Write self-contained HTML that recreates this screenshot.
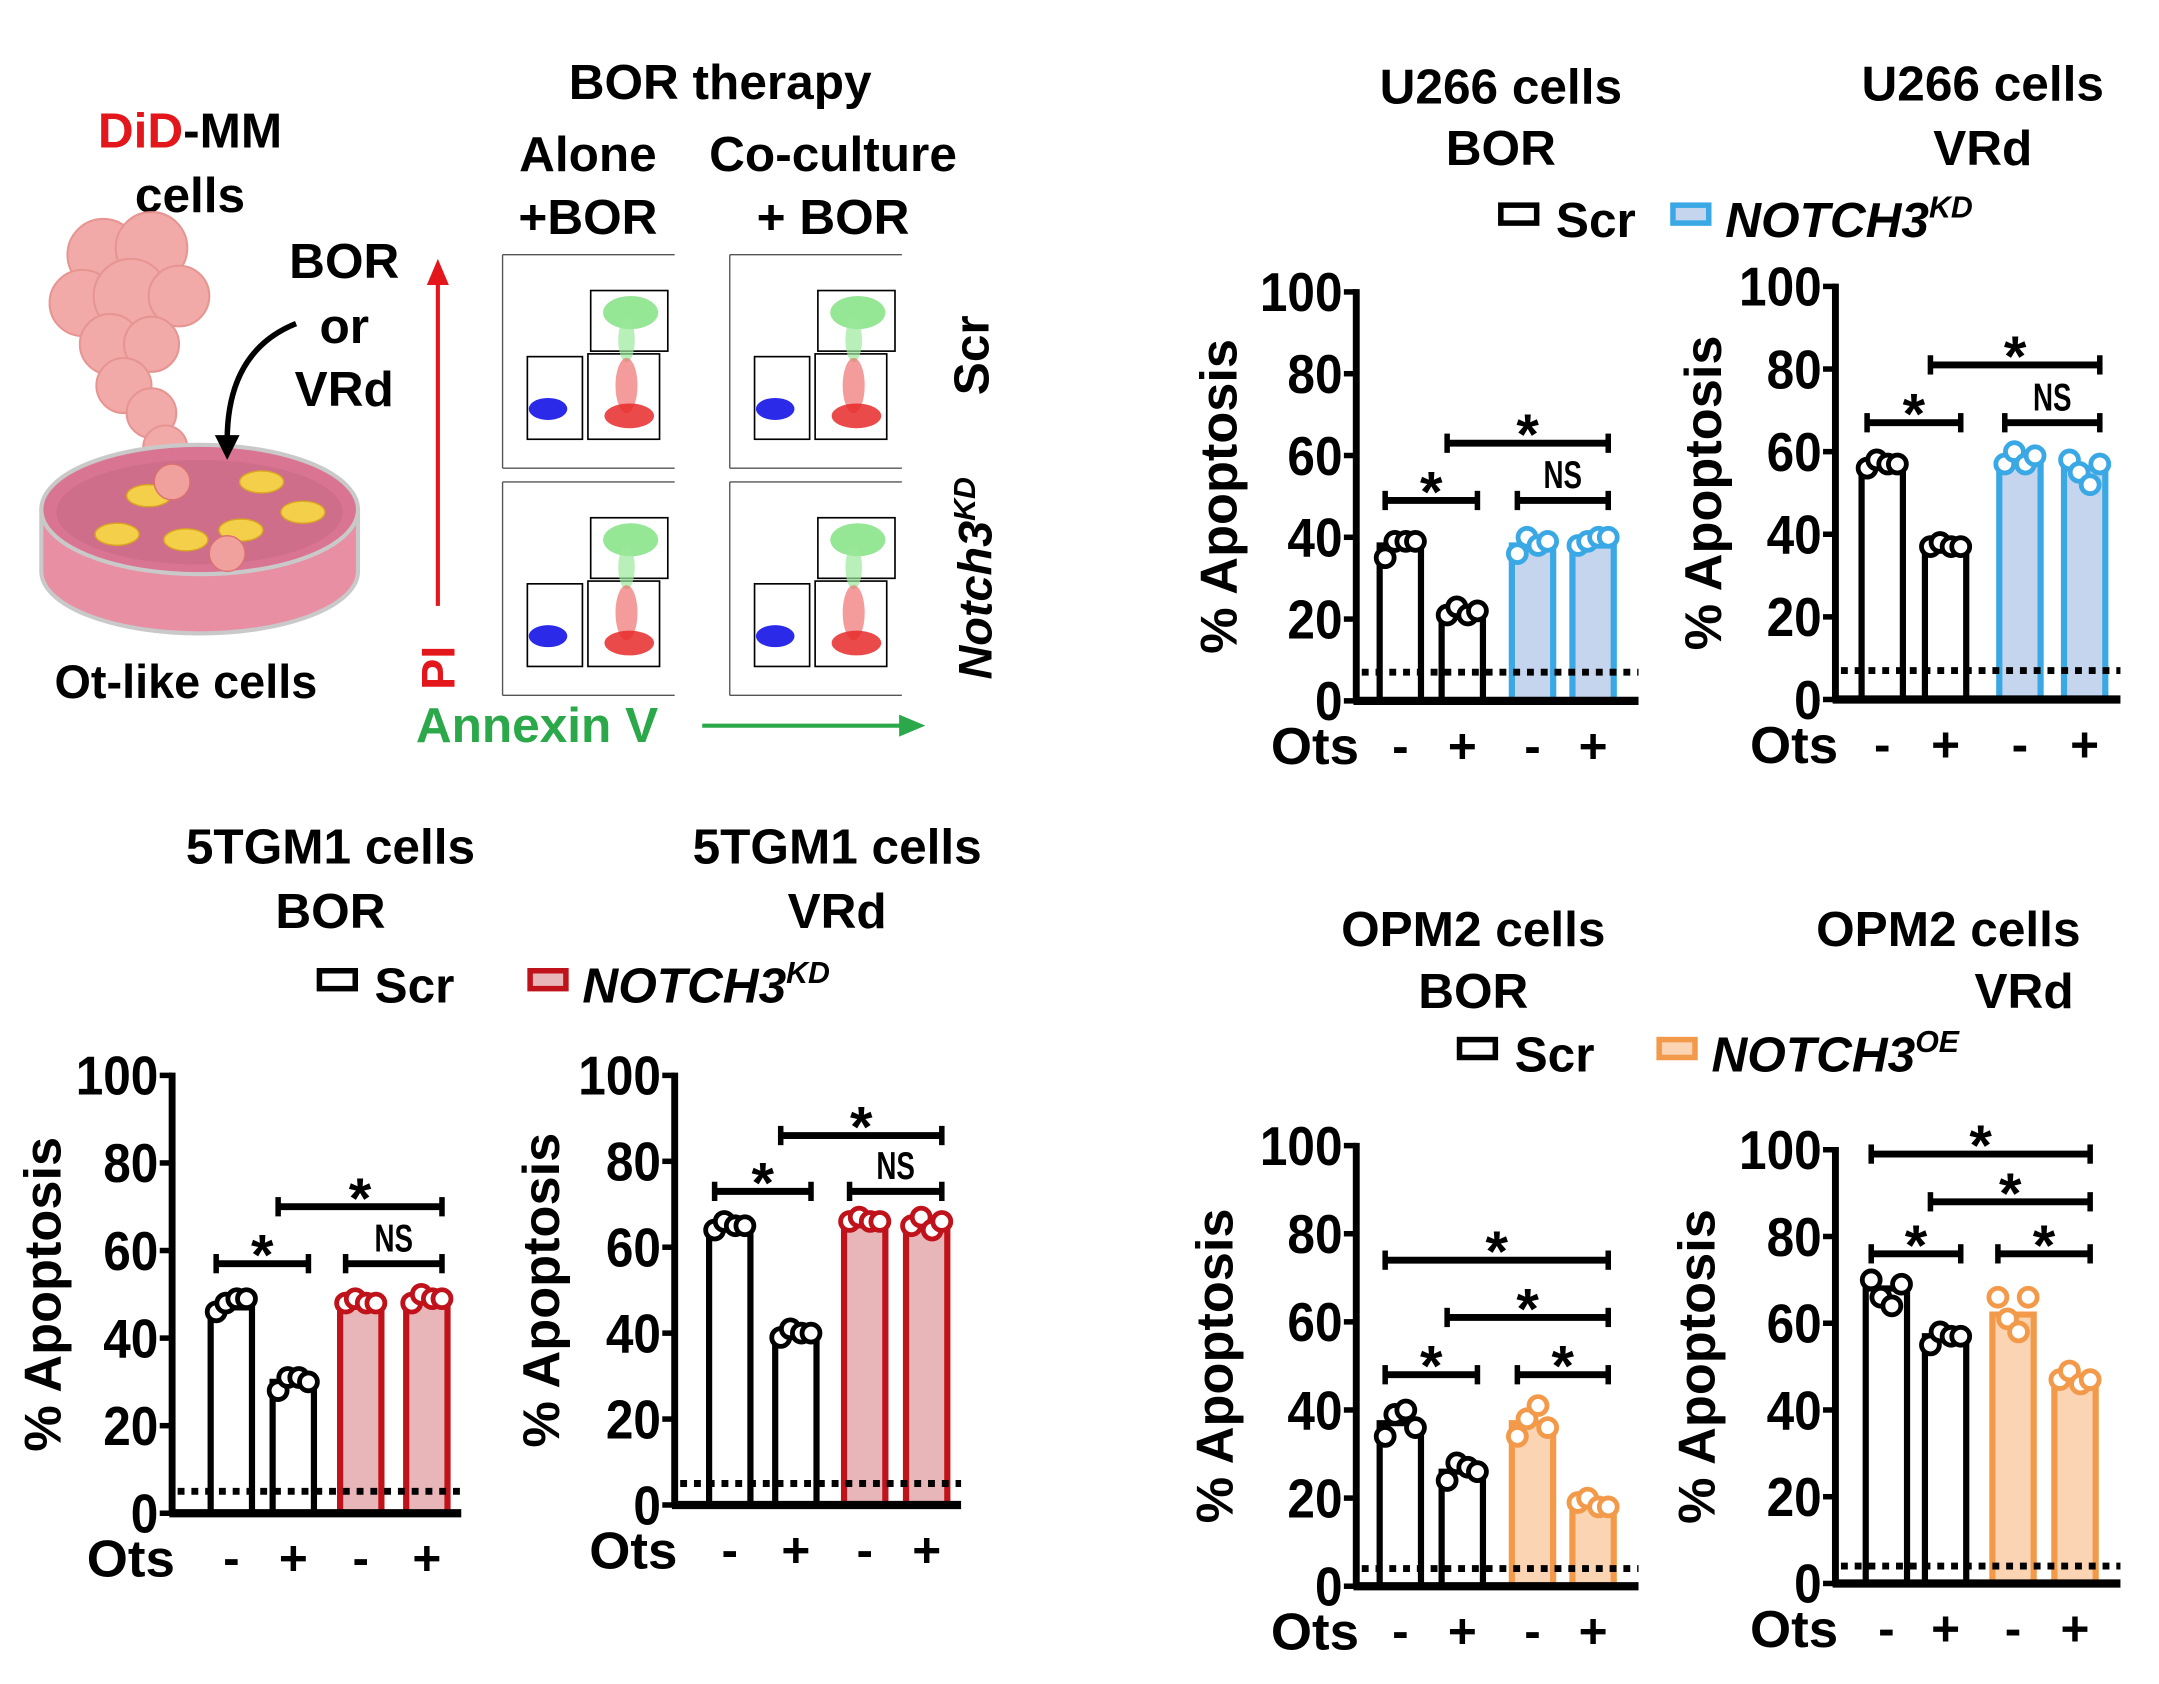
<!DOCTYPE html>
<html><head><meta charset="utf-8"><style>
html,body{margin:0;padding:0;background:#fff}
svg{display:block}
text{font-family:"Liberation Sans",Arial,sans-serif;font-weight:bold}
</style></head><body>
<svg id="fig" xmlns="http://www.w3.org/2000/svg" width="2159" height="1684" viewBox="0 0 1568 1223">
<rect width="1568" height="1223" fill="#fff"/>
<g id="schematic">
  <text x="138" y="107" font-size="36" text-anchor="middle"><tspan fill="#e3161b">DiD</tspan>-MM</text>
  <text x="138" y="154" font-size="36" text-anchor="middle">cells</text>
  <g fill="#f0a19e" stroke="#e58a87" stroke-width="1.5" opacity="0.9">
    <circle cx="75" cy="185" r="26"/><circle cx="110" cy="180" r="26"/><circle cx="60" cy="220" r="24"/>
    <circle cx="95" cy="215" r="27"/><circle cx="130" cy="215" r="22"/><circle cx="80" cy="250" r="22"/>
    <circle cx="110" cy="250" r="20"/><circle cx="90" cy="280" r="20"/><circle cx="110" cy="300" r="18"/><circle cx="120" cy="325" r="16"/>
  </g>
  <g>
    <path d="M30 370 L30 415 A115 45 0 0 0 260 415 L260 370" fill="#e98fa4" stroke="#c9c9c9" stroke-width="3"/>
    <ellipse cx="145" cy="370" rx="115" ry="47" fill="#d97592" stroke="#c9c9c9" stroke-width="3"/>
    <ellipse cx="145" cy="372" rx="104" ry="38" fill="#cf6e8a"/>
    <g fill="#f3cf4a" stroke="#d9a520" stroke-width="1">
      <ellipse cx="108" cy="360" rx="16" ry="8"/><ellipse cx="190" cy="350" rx="16" ry="8"/><ellipse cx="220" cy="372" rx="16" ry="8"/>
      <ellipse cx="85" cy="388" rx="16" ry="8"/><ellipse cx="135" cy="392" rx="16" ry="8"/><ellipse cx="175" cy="385" rx="16" ry="8"/>
    </g>
    <circle cx="125" cy="350" r="13" fill="#f0a19e" stroke="#d97070"/><circle cx="165" cy="402" r="13" fill="#f0a19e" stroke="#d97070"/>
  </g>
  <path d="M215 235 Q165 255 165 320" fill="none" stroke="#000" stroke-width="4"/>
  <polygon points="156,316 174,316 165,334" fill="#000"/>
  <text x="250" y="202" font-size="36" text-anchor="middle">BOR</text>
  <text x="250" y="249" font-size="36" text-anchor="middle">or</text>
  <text x="250" y="295" font-size="36" text-anchor="middle">VRd</text>
  <text x="135" y="507" font-size="34" text-anchor="middle">Ot-like cells</text>
</g>
<g id="flow">
  <text x="523" y="72" font-size="36" text-anchor="middle">BOR therapy</text>
  <text x="427" y="124" font-size="36" text-anchor="middle">Alone</text>
  <text x="427" y="170" font-size="36" text-anchor="middle">+BOR</text>
  <text x="605" y="124" font-size="36" text-anchor="middle">Co-culture</text>
  <text x="605" y="170" font-size="36" text-anchor="middle">+ BOR</text>
  <text transform="translate(718,258) rotate(-90)" font-size="36" text-anchor="middle">Scr</text>
  <text transform="translate(720,420) rotate(-90)" font-size="34" font-style="italic" text-anchor="middle">Notch3<tspan font-size="22" dy="-12">KD</tspan></text>
  <line x1="318" y1="440" x2="318" y2="205" stroke="#e3161b" stroke-width="3"/>
  <polygon points="310,207 326,207 318,188" fill="#e3161b"/>
  <text transform="translate(330,485) rotate(-90)" font-size="34" fill="#e3161b" text-anchor="middle">PI</text>
  <text x="390" y="539" font-size="36" fill="#2ba84a" text-anchor="middle">Annexin V</text>
  <line x1="510" y1="527" x2="655" y2="527" stroke="#2ba84a" stroke-width="3"/>
  <polygon points="653,519 653,535 672,527" fill="#2ba84a"/>
  <g id="plots"></g>
</g>
<g id="charts"></g>
</svg>
<script>
var plotOrigins = [[365,185,'scr-alone'],[530,185,'scr-coculture'],[365,350,'kd-alone'],[530,350,'kd-coculture']];
var NS = 'http://www.w3.org/2000/svg';
function mk(tag, attrs, parent){var e=document.createElementNS(NS,tag);for(var k in attrs)e.setAttribute(k,attrs[k]);parent.appendChild(e);return e;}
var plots = document.getElementById('plots');
plotOrigins.forEach(function(p){
  var g = mk('g',{},plots);
  
  
  var x=p[0], y=p[1];
  mk('line',{x1:x,y1:y,x2:x+125,y2:y,stroke:'#555','stroke-width':1},g);
  mk('line',{x1:x,y1:y,x2:x,y2:y+155,stroke:'#555','stroke-width':1},g);
  mk('line',{x1:x,y1:y+155,x2:x+125,y2:y+155,stroke:'#555','stroke-width':1},g);
  mk('rect',{x:x+64,y:y+26,width:56,height:44,fill:'none',stroke:'#000','stroke-width':1.2},g);
  mk('rect',{x:x+18,y:y+74,width:40,height:60,fill:'none',stroke:'#000','stroke-width':1.2},g);
  mk('rect',{x:x+62,y:y+72,width:52,height:62,fill:'none',stroke:'#000','stroke-width':1.2},g);
  mk('ellipse',{cx:x+93,cy:y+42,rx:20,ry:12,fill:'#7be07b',opacity:0.8},g);
  mk('ellipse',{cx:x+90,cy:y+62,rx:6,ry:16,fill:'#9be89b',opacity:0.7},g);
  mk('ellipse',{cx:x+33,cy:y+112,rx:14,ry:8,fill:'#2a2ae8'},g);
  mk('ellipse',{cx:x+90,cy:y+95,rx:8,ry:20,fill:'#f07070',opacity:0.7},g);
  mk('ellipse',{cx:x+92,cy:y+117,rx:18,ry:9,fill:'#e82a2a',opacity:0.85},g);
});

var chartIds = ['u266-bor','u266-vrd','5tgm1-bor','5tgm1-vrd','opm2-bor','opm2-vrd'];
var barValues = [[38,21,38,38],[57,37,58,56],[47,30,48,49],[65,40,66,65],[37,26,37,19],[68,57,62,47]];
var dotValues = [
  [[35,39,39,39],[21,23,21,22],[36,40,38,39],[38,39,40,40]],
  [[56,58,57,57],[37,38,37,37],[57,60,57,59],[58,55,52,57]],
  [[46,48,49,49],[28,31,31,30],[48,49,48,48],[48,50,49,49]],
  [[64,66,65,65],[39,41,40,40],[66,67,66,66],[65,67,64,66]],
  [[34,39,40,36],[24,28,27,26],[34,38,41,36],[19,20,18,18]],
  [[70,66,64,69],[55,58,57,57],[66,61,58,66],[47,49,46,47]]
];
var dottedLevels = [7,7,5,5,4,4];
var bracketSets = [
  [[0,1,49,'*'],[1,3,63,'*'],[2,3,49,'NS']],
  [[0,1,67,'*'],[1,3,81,'*'],[2,3,67,'NS']],
  [[0,1,57,'*'],[1,3,70,'*'],[2,3,57,'NS']],
  [[0,1,73,'*'],[1,3,86,'*'],[2,3,73,'NS']],
  [[0,1,48,'*'],[2,3,48,'*'],[1,3,61,'*'],[0,3,74,'*']],
  [[0,1,76,'*'],[2,3,76,'*'],[1,3,88,'*'],[0,3,99,'*']]
];
var yTicks = [0,20,40,60,80,100];
var otsLabels = ['-','+','-','+'];
var titleLine1 = ['U266 cells','U266 cells','5TGM1 cells','5TGM1 cells','OPM2 cells','OPM2 cells'];
var titleLine2 = ['BOR','VRd','BOR','VRd','BOR','VRd'];
var legendLabels = ['Scr','NOTCH3','KD','OE'];

var layout = [
  {ax:985,y0:509,y100:212,xs:[1017,1062,1113,1157],end:1190,col:'#3aa8e4',fill:'#c6d5ee',t1:[1090,75],t2:[1090,120],ylx:898},
  {ax:1333,y0:508,y100:208,xs:[1367,1413,1467,1514],end:1540,col:'#3aa8e4',fill:'#c6d5ee',t1:[1440,73],t2:[1440,120],ylx:1250},
  {ax:125,y0:1099,y100:781,xs:[168,213,262,310],end:335,col:'#c0121b',fill:'#e8b6b8',t1:[240,627],t2:[240,674],ylx:44},
  {ax:490,y0:1093,y100:781,xs:[530,578,628,673],end:698,col:'#c0121b',fill:'#e8b6b8',t1:[608,627],t2:[608,674],ylx:406},
  {ax:985,y0:1152,y100:832,xs:[1017,1062,1113,1157],end:1190,col:'#f39a4a',fill:'#fbd4b4',t1:[1070,687],t2:[1070,732],ylx:895},
  {ax:1333,y0:1150,y100:835,xs:[1370,1413,1462,1507],end:1540,col:'#f39a4a',fill:'#fbd4b4',t1:[1415,687],t2:[1470,732],ylx:1245}
];
var dotOffsets = [-11,-4,4,11];
var charts = document.getElementById('charts');

chartIds.forEach(function(id,ci){
  var L = layout[ci];
  function yS(v){return L.y0 + (L.y100-L.y0)*v/100;}
  var g = mk('g',{},charts);
  
  
  var t1 = mk('text',{x:L.t1[0],y:L.t1[1],'font-size':36,'text-anchor':'middle'},g); t1.textContent = titleLine1[ci];
  
  
  var t2 = mk('text',{x:L.t2[0],y:L.t2[1],'font-size':36,'text-anchor':'middle'},g); t2.textContent = titleLine2[ci];
  
  
  var midY = (L.y0 + L.y100)/2;
  var yl = mk('text',{transform:'translate('+L.ylx+','+midY+') rotate(-90)','font-size':38,'text-anchor':'middle'},g);
  yl.textContent = '% Apoptosis';
  
  
  var bw = 30;
  barValues[ci].forEach(function(v,i){
    var isScr = i<2;
    var x = L.xs[i]-bw/2, y = yS(v);
    var r = mk('path',{d:'M'+x+' '+L.y0+' L'+x+' '+y+' L'+(x+bw)+' '+y+' L'+(x+bw)+' '+L.y0,fill:isScr?'#fff':L.fill,stroke:isScr?'#000':L.col,'stroke-width':4.5},g);
    
    
  });
  var dl = mk('line',{x1:L.ax+4,x2:L.end,y1:yS(dottedLevels[ci]),y2:yS(dottedLevels[ci]),stroke:'#000','stroke-width':5,'stroke-dasharray':'5 5'},g);
  
  
  dotValues[ci].forEach(function(arr,i){
    arr.forEach(function(v,j){
      var c = mk('circle',{cx:L.xs[i]+dotOffsets[j],cy:yS(v),r:6.5,fill:'#fff',stroke:i<2?'#000':L.col,'stroke-width':3.5},g);
      
      
    });
  });
  var ya = mk('line',{x1:L.ax,x2:L.ax,y1:L.y100-2,y2:L.y0+2,stroke:'#000','stroke-width':5},g);
  
  
  var xa = mk('line',{x1:L.ax-2,x2:L.end,y1:L.y0,y2:L.y0,stroke:'#000','stroke-width':6},g);
  
  
  yTicks.forEach(function(t){
    var y = yS(t);
    mk('line',{x1:L.ax-9,x2:L.ax,y1:y,y2:y,stroke:'#000','stroke-width':4},g);
    var tl = mk('text',{x:L.ax-10,y:y+14,'font-size':40,'text-anchor':'end',textLength:t==100?60:(t==0?20:40),lengthAdjust:'spacingAndGlyphs'},g);
    tl.textContent = t;
    
    
  });
  var ot = mk('text',{x:L.ax-62,y:L.y0+46,'font-size':38,textLength:64,lengthAdjust:'spacingAndGlyphs'},g);
  ot.textContent = 'Ots';
  
  
  otsLabels.forEach(function(s,i){
    var o = mk('text',{x:L.xs[i],y:L.y0+45,'font-size':36,'text-anchor':'middle'},g);
    o.textContent = s;
    
    
  });
  bracketSets[ci].forEach(function(b){
    var x1 = L.xs[b[0]]-bw/2+4, x2 = L.xs[b[1]]+bw/2-4, y = yS(b[2]);
    var bg = mk('g',{},g);
    
    
    mk('line',{x1:x1,x2:x2,y1:y,y2:y,stroke:'#000','stroke-width':5},bg);
    mk('line',{x1:x1,x2:x1,y1:y-7,y2:y+7,stroke:'#000','stroke-width':4},bg);
    mk('line',{x1:x2,x2:x2,y1:y-7,y2:y+7,stroke:'#000','stroke-width':4},bg);
    var isNS = b[3]=='NS';
    var lt = mk('text',{x:(x1+x2)/2,y:isNS?y-9:y+8,'font-size':isNS?28:42,'text-anchor':'middle'},bg);
    if(isNS){ lt.setAttribute('textLength','28'); lt.setAttribute('lengthAdjust','spacingAndGlyphs'); }
    lt.textContent = b[3];
  });
});

var legendPos = [[1090,160,1215,'KD','#3aa8e4','#c6d5ee'],[232,716,385,'KD','#c0121b','#e8b6b8'],[1060,766,1205,'OE','#f39a4a','#fbd4b4']];
legendPos.forEach(function(p){
  var g = mk('g',{},charts);
  
  
  mk('rect',{x:p[0],y:p[1]-11,width:26,height:13,fill:'#fff',stroke:'#000','stroke-width':4},g);
  var s = mk('text',{x:p[0]+40,y:p[1]+12,'font-size':36},g); s.textContent = legendLabels[0];
  mk('rect',{x:p[2],y:p[1]-11,width:26,height:13,fill:p[5],stroke:p[4],'stroke-width':4},g);
  var n = mk('text',{x:p[2]+38,y:p[1]+12,'font-size':36,'font-style':'italic'},g);
  n.textContent = legendLabels[1];
  var sup = mk('tspan',{'font-size':22,dy:-14},n); sup.textContent = p[3];
});
</script>
</body></html>
